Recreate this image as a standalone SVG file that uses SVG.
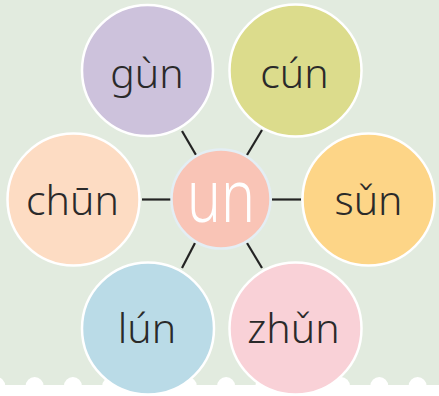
<svg xmlns="http://www.w3.org/2000/svg" width="439" height="396" viewBox="0 0 439 396">
<style>
.bg{fill:#e2ebdf}
.strip{fill:#ffffff}
.node{stroke:#ffffff;stroke-width:2.5}
.lbl{font-family:"Noto Sans","Open Sans",Roboto,sans-serif;font-weight:300;font-size:41px;fill:#2a2a2a;text-anchor:middle}
.conn line{stroke:#232323;stroke-width:2.2;stroke-linecap:butt}
</style>
<rect class="bg" x="0" y="0" width="439" height="396"/>
<g id="strip">
<rect class="strip" x="0" y="385" width="439" height="11"/>
<circle class="strip" cx="-3.7" cy="386" r="9"/>
<circle class="strip" cx="34.6" cy="386" r="9"/>
<circle class="strip" cx="72.9" cy="386" r="9"/>
<circle class="strip" cx="111.2" cy="386" r="9"/>
<circle class="strip" cx="149.5" cy="386" r="9"/>
<circle class="strip" cx="187.8" cy="386" r="9"/>
<circle class="strip" cx="226.1" cy="386" r="9"/>
<circle class="strip" cx="264.4" cy="386" r="9"/>
<circle class="strip" cx="302.7" cy="386" r="9"/>
<circle class="strip" cx="341" cy="386" r="9"/>
<circle class="strip" cx="379.3" cy="386" r="9"/>
<circle class="strip" cx="417.6" cy="386" r="9"/>
</g>
<g class="conn" id="connectors">
<line x1="182" y1="131" x2="196" y2="155"/>
<line x1="262" y1="130" x2="247" y2="155"/>
<line x1="142" y1="199.5" x2="171" y2="199.5"/>
<line x1="272" y1="199.5" x2="301" y2="199.5"/>
<line x1="195" y1="243" x2="182" y2="268"/>
<line x1="247" y1="243" x2="262" y2="268"/>
</g>
<g id="gun"><circle class="node" cx="147.5" cy="70.5" r="65.5" fill="#cdc2dc"/><text class="lbl" x="147" y="88">gùn</text></g>
<g id="cun"><circle class="node" cx="295.5" cy="70.5" r="66" fill="#dcdc8c"/><text class="lbl" x="294.5" y="88">cún</text></g>
<g id="chun"><circle class="node" cx="73.5" cy="199.5" r="66" fill="#fddcc3"/><text class="lbl" x="72.5" y="215">chūn</text></g>
<g id="sun"><circle class="node" cx="368.5" cy="199.5" r="66" fill="#fdd587"/><text class="lbl" x="368.5" y="215">sǔn</text></g>
<g id="lun"><circle class="node" cx="148" cy="328.5" r="66" fill="#badbe7"/><text class="lbl" x="147" y="343">lún</text></g>
<g id="zhun"><circle class="node" cx="295.5" cy="328.5" r="66" fill="#f9d1d7"/><text class="lbl" x="293.5" y="343">zhǔn</text></g>
<g id="un"><circle cx="221" cy="199" r="49.5" fill="#f9c4b6" stroke="#e4eef4" stroke-width="2.5"/><text x="221" y="222" style="font-family:'Noto Sans','Open Sans',Roboto,sans-serif;font-weight:300;font-size:74px;fill:#ffffff;text-anchor:middle" textLength="68" lengthAdjust="spacingAndGlyphs">un</text></g>
</svg>
